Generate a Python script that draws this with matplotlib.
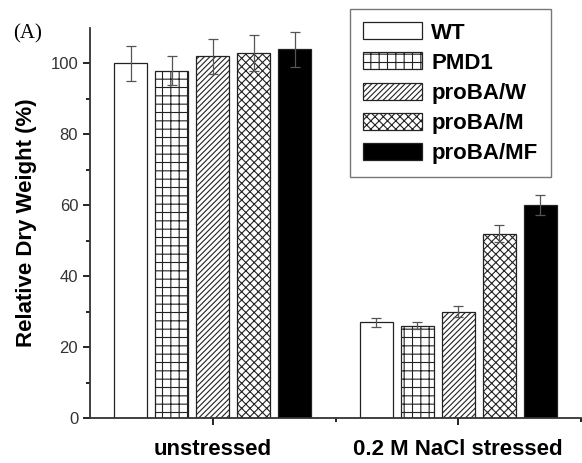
import matplotlib.pyplot as plt
import numpy as np

# data
groups = ['unstressed', '0.2 M NaCl stressed']
strains = ['WT', 'PMD1', 'proBA/W', 'proBA/M', 'proBA/MF']
unstressed = [100, 98, 102, 103, 104]
unstressed_err = [5, 4, 5, 5, 5]
stressed = [27, 26, 30, 52, 60]
stressed_err = [1.3, 1.0, 1.5, 2.3, 2.8]

# styles
fills = ['white', 'white', 'white', 'white', 'black']
hatches = [None, '++', '//////', 'xxxx', None]

plt.rcParams['font.family'] = ['Liberation Sans', 'DejaVu Sans']
plt.rcParams['hatch.linewidth'] = 0.8
plt.rcParams['hatch.color'] = '#555555'

fig = plt.figure(figsize=(5.82, 4.63), dpi=100)
ax = fig.add_axes([90 / 582, 1 - 418 / 463, 491 / 582, 390 / 463])

x = np.array([1, 2])
pitch = 1 / 6
width = 0.135
vals = np.array([unstressed, stressed])
errs = np.array([unstressed_err, stressed_err])

for i, name in enumerate(strains):
    xi = x + (i - 2) * pitch
    ax.bar(xi, vals[:, i], width, color=fills[i], edgecolor='#222222',
           linewidth=0.9, hatch=hatches[i], label=name)
    ax.errorbar(xi, vals[:, i], yerr=errs[:, i], fmt='none',
                ecolor='#555555', elinewidth=0.9, capsize=3.5, capthick=0.9)

ax.set_xlim(0.5, 2.5)
ax.set_ylim(0, 110)
ax.set_xticks(x)
ax.set_xticklabels(groups, fontsize=16, fontweight='bold')
ax.set_xticks([1.5, 2.5], minor=True)
ax.set_yticks([0, 20, 40, 60, 80, 100])
ax.set_yticks(np.arange(10, 110, 20), minor=True)
ax.tick_params(axis='y', labelsize=12, labelcolor='#333333', length=5, width=1.2)
ax.tick_params(axis='y', which='minor', length=3, width=1.2)
ax.tick_params(axis='x', which='major', length=5, width=1.2, pad=10)
ax.tick_params(axis='x', which='minor', length=3, width=1.2)
ax.set_ylabel('Relative Dry Weight (%)', fontsize=16, fontweight='bold', labelpad=10)

for s in ['top', 'right']:
    ax.spines[s].set_visible(False)
for s in ['left', 'bottom']:
    ax.spines[s].set_linewidth(1.3)
    ax.spines[s].set_color('#333333')

leg = fig.legend(loc='upper left', bbox_to_anchor=(350 / 582, 1 - 9 / 463),
                 prop={'size': 16, 'weight': 'bold'}, fancybox=False,
                 edgecolor='#555555', handlelength=2.65, handleheight=0.8,
                 handletextpad=0.4, labelspacing=0.4, borderpad=0.6,
                 borderaxespad=0)
leg.get_frame().set_linewidth(1.0)

fig.text(13 / 582, 1 - 38 / 463, '(A)', fontsize=15, family='Liberation Serif')

fig.savefig('out.png', dpi=100)
